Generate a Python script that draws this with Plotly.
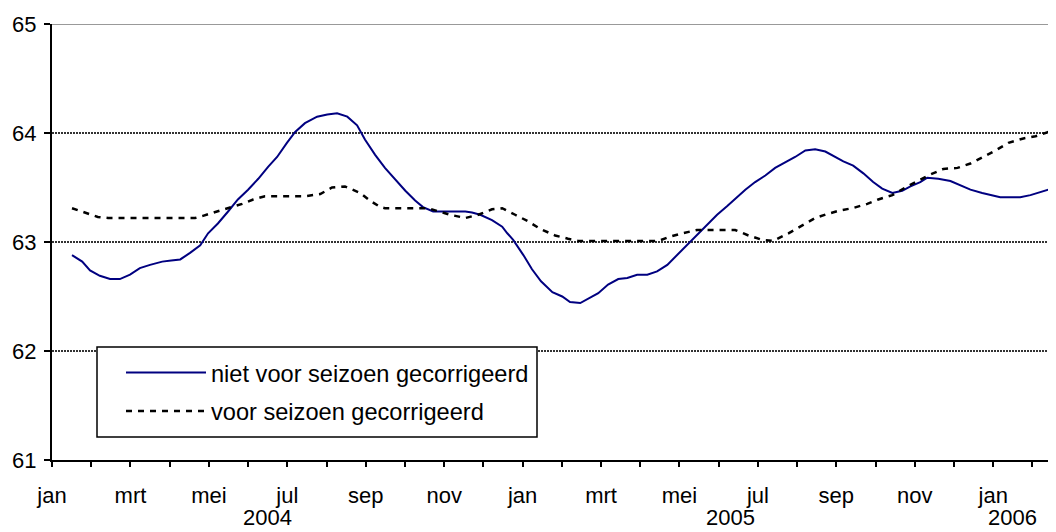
import plotly.graph_objects as go

# months since the start of January 2004 (category-style axis, one unit per month)
months_niet = [0.51, 0.77, 0.97, 1.22, 1.48, 1.73, 1.99, 2.24, 2.50, 2.81, 3.04, 3.27, 3.52, 3.78,
               3.98, 4.23, 4.49, 4.74, 5.00, 5.26, 5.51, 5.74, 5.99, 6.20, 6.45, 6.76, 7.02, 7.27,
               7.53, 7.78, 7.98, 8.24, 8.49, 8.75, 9.01, 9.26, 9.46, 9.72, 10.03, 10.28, 10.54,
               10.71, 10.92, 11.22, 11.48, 11.61, 11.76, 12.02, 12.24, 12.47, 12.76, 13.01, 13.21,
               13.47, 13.67, 13.93, 14.18, 14.44, 14.67, 14.92, 15.18, 15.43, 15.69, 15.94, 16.20,
               16.45, 16.71, 16.96, 17.22, 17.47, 17.68, 17.93, 18.19, 18.44, 18.70, 18.95, 19.21,
               19.46, 19.72, 19.97, 20.18, 20.43, 20.69, 20.94, 21.17, 21.43, 21.68, 21.89, 22.14,
               22.32, 22.60, 22.91, 23.16, 23.42, 23.72, 23.93, 24.18, 24.44, 24.69, 24.95, 25.20,
               25.41]
niet_gecorrigeerd = [62.88, 62.82, 62.74, 62.69, 62.66, 62.66, 62.70, 62.76, 62.79, 62.82, 62.83,
                     62.84, 62.90, 62.97, 63.08, 63.17, 63.28, 63.39, 63.48, 63.58, 63.69, 63.78,
                     63.91, 64.01, 64.09, 64.15, 64.17, 64.18, 64.15, 64.07, 63.94, 63.80, 63.68,
                     63.57, 63.47, 63.38, 63.32, 63.28, 63.28, 63.28, 63.28, 63.27, 63.25, 63.20,
                     63.14, 63.08, 63.02, 62.88, 62.75, 62.64, 62.54, 62.50, 62.45, 62.44, 62.48,
                     62.53, 62.61, 62.66, 62.67, 62.70, 62.70, 62.73, 62.79, 62.88, 62.97, 63.06,
                     63.16, 63.25, 63.33, 63.41, 63.48, 63.55, 63.61, 63.68, 63.73, 63.78, 63.84,
                     63.85, 63.83, 63.78, 63.74, 63.70, 63.63, 63.55, 63.49, 63.45, 63.47, 63.51,
                     63.55, 63.59, 63.58, 63.56, 63.52, 63.48, 63.45, 63.43, 63.41, 63.41, 63.41,
                     63.43, 63.46, 63.48]

months_voor = [0.51, 0.89, 1.17, 1.43, 3.65, 3.85, 4.21, 4.49, 4.85, 5.13, 5.43, 6.45, 6.84, 7.14,
               7.47, 7.86, 8.11, 8.37, 8.49, 9.59, 9.85, 10.15, 10.54, 10.87, 11.22, 11.48, 11.81,
               12.14, 12.45, 12.83, 13.16, 13.42, 15.46, 15.77, 16.07, 16.45, 17.42, 17.76, 18.11,
               18.39, 18.78, 19.03, 19.46, 19.80, 20.10, 20.41, 20.79, 21.07, 21.43, 21.76, 22.09,
               22.40, 22.73, 23.09, 23.42, 23.75, 24.06, 24.39, 24.77, 25.08, 25.41]
voor_gecorrigeerd = [63.31, 63.26, 63.23, 63.22, 63.22, 63.24, 63.28, 63.31, 63.35, 63.39, 63.42,
                     63.42, 63.44, 63.50, 63.51, 63.45, 63.38, 63.32, 63.31, 63.31, 63.28, 63.25,
                     63.22, 63.25, 63.30, 63.31, 63.25, 63.19, 63.12, 63.06, 63.03, 63.01, 63.01,
                     63.05, 63.08, 63.11, 63.11, 63.06, 63.02, 63.01, 63.08, 63.13, 63.22, 63.26,
                     63.29, 63.31, 63.35, 63.39, 63.43, 63.50, 63.56, 63.62, 63.67, 63.68, 63.72,
                     63.78, 63.84, 63.91, 63.95, 63.97, 64.01]

month_ticks = list(range(0, 26))
month_labels = ["jan", "", "mrt", "", "mei", "", "jul", "", "sep", "", "nov", "",
                "jan", "", "mrt", "", "mei", "", "jul", "", "sep", "", "nov", "",
                "jan", ""]
years = ["2004", "2005", "2006"]
year_pos = [5.5, 17.3, 24.5]

FONT = "Liberation Sans, Arial, sans-serif"

fig = go.Figure()
fig.add_trace(go.Scatter(x=months_niet, y=niet_gecorrigeerd, mode="lines",
                         name="niet voor seizoen gecorrigeerd",
                         line=dict(color="#000080", width=2), legendgroup="a"))
fig.add_trace(go.Scatter(x=months_voor, y=voor_gecorrigeerd, mode="lines",
                         name="voor seizoen gecorrigeerd",
                         line=dict(color="black", width=2.5, dash="6px,6px"), legendgroup="b"))

for yr, xp in zip(years, year_pos):
    fig.add_annotation(x=xp, y=-0.163, xref="x", yref="paper", text=yr, showarrow=False,
                       xanchor="center", yanchor="bottom", borderpad=0,
                       font=dict(family=FONT, size=22, color="black"))

# top boundary line at 65 (light gray in the original)
fig.add_shape(type="line", xref="paper", yref="y", x0=0, x1=1, y0=65, y1=65,
              line=dict(color="#999999", width=2))
# legend frame (white box that hides the grid behind the legend)
fig.add_shape(type="rect", xref="paper", yref="paper", x0=0.045, x1=0.485, y0=0.053, y1=0.259,
              fillcolor="white", line=dict(color="black", width=1.5), layer="above")

# the page body adds an 8px offset, so the figure is 8px smaller and margins compensate
fig.update_layout(
    width=1048, height=524,
    margin=dict(l=44, r=4, t=16, b=72, autoexpand=False),
    paper_bgcolor="white", plot_bgcolor="white",
    font=dict(family=FONT, size=22, color="black"),
    showlegend=True,
    legend=dict(x=0.069, y=0.251, xanchor="left", yanchor="top",
                bgcolor="rgba(0,0,0,0)", borderwidth=0,
                font=dict(family=FONT, size=23.6, color="black"),
                itemwidth=80, tracegroupgap=5, traceorder="grouped"),
    xaxis=dict(range=[0, 25.5], tickmode="array", tickvals=month_ticks, ticktext=month_labels,
               ticks="outside", ticklen=5, tickwidth=1.5, tickcolor="black",
               showline=True, linecolor="black", linewidth=2, showgrid=False, zeroline=False,
               ticklabelstandoff=10, tickangle=0, automargin=False),
    yaxis=dict(range=[61, 65], tickmode="array", tickvals=[61, 62, 63, 64, 65],
               ticks="outside", ticklen=6, tickwidth=1.5, tickcolor="black",
               showline=True, linecolor="black", linewidth=2,
               showgrid=True, gridcolor="#333333", gridwidth=2, griddash="2px,1px",
               zeroline=False, ticklabelstandoff=3, automargin=False),
)

fig.write_html("out.html")
